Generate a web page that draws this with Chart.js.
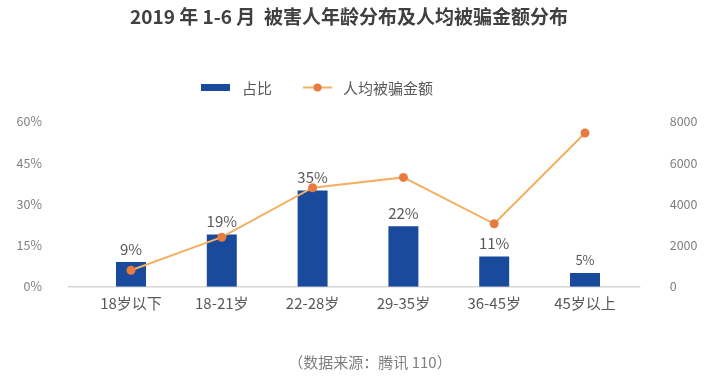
<!DOCTYPE html>
<html><head><meta charset="utf-8">
<script src="https://cdn.jsdelivr.net/npm/chart.js@4"></script>
<style>html,body{margin:0;padding:0;background:#fff}#wrap{width:720px;height:379px}</style>
</head><body><div id="wrap"><canvas id="c" width="720" height="379"></canvas></div>
<script>
const categories = ['18岁以下', '18-21岁', '22-28岁', '29-35岁', '36-45岁', '45岁以上'];
const shareValues = [9, 19, 35, 22, 11, 5];
const avgAmounts = [800, 2400, 4800, 5300, 3050, 7450];
const shareTicks = [0, 15, 30, 45, 60];
const amountTicks = [0, 2000, 4000, 6000, 8000];
const titleText = '2019 年 1-6 月  被害人年龄分布及人均被骗金额分布';
const seriesNames = ['占比', '人均被骗金额'];
const sourceText = '（数据来源：腾讯 110）';

const FONT = '"Noto Sans CJK SC", "Noto Sans", sans-serif';
const BAR = '#1a4a9b', LINE = '#f2b063', DOT = '#ea7b3f';
Chart.defaults.font.family = FONT;

const decor = {
  id: 'decor',
  beforeDatasetsDraw(chart) {
    const ctx = chart.ctx, a = chart.chartArea, y0 = chart.scales.y.getPixelForValue(0);
    ctx.save();
    ctx.strokeStyle = '#d6d6d6'; ctx.lineWidth = 1.5;
    ctx.beginPath(); ctx.moveTo(a.left - 18, y0); ctx.lineTo(a.right + 10, y0); ctx.stroke();
    ctx.restore();
  },
  afterDatasetsDraw(chart) {
    const ctx = chart.ctx;
    ctx.save();
    ctx.fillStyle = '#595959'; ctx.textAlign = 'center'; ctx.textBaseline = 'middle';
    chart.getDatasetMeta(1).data.forEach((el, i) => {
      ctx.font = (shareValues[i] < 8 ? '13px ' : '15px ') + FONT;
      ctx.fillText(shareValues[i] + '%', el.x, el.y - 13);
    });
    ctx.restore();
  },
  afterDraw(chart) {
    const ctx = chart.ctx;
    ctx.save();
    ctx.fillStyle = '#404040'; ctx.textAlign = 'center'; ctx.textBaseline = 'middle';
    ctx.font = 'bold 19px ' + FONT;
    ctx.fillText(titleText, 349, 17);
    ctx.font = '15px ' + FONT; ctx.textAlign = 'left';
    ctx.fillStyle = BAR; ctx.fillRect(201, 84, 29, 7);
    ctx.fillStyle = '#595959'; ctx.fillText(seriesNames[0], 242, 88);
    ctx.strokeStyle = LINE; ctx.lineWidth = 2;
    ctx.beginPath(); ctx.moveTo(303, 87.5); ctx.lineTo(332, 87.5); ctx.stroke();
    ctx.fillStyle = DOT; ctx.beginPath(); ctx.arc(317.5, 87.5, 4, 0, Math.PI * 2); ctx.fill();
    ctx.fillStyle = '#595959'; ctx.fillText(seriesNames[1], 343, 88);
    ctx.textAlign = 'center'; ctx.fillStyle = '#7f7f7f';
    ctx.fillText(sourceText, 370, 362.5);
    ctx.restore();
  }
};

new Chart(document.getElementById('c'), {
  type: 'bar',
  data: {
    labels: categories,
    datasets: [
      {
        type: 'line', label: seriesNames[1], data: avgAmounts, yAxisID: 'y2', order: 0,
        borderColor: LINE, borderWidth: 2, tension: 0,
        pointRadius: 4.5, pointBackgroundColor: DOT, pointBorderColor: DOT, pointBorderWidth: 0
      },
      {
        type: 'bar', label: seriesNames[0], data: shareValues, yAxisID: 'y', order: 1,
        backgroundColor: BAR, categoryPercentage: 1, barPercentage: 0.33
      }
    ]
  },
  options: {
    responsive: false, animation: false, devicePixelRatio: 1,
    layout: { padding: { top: 121.7, bottom: 0, left: 0, right: 0 } },
    plugins: { legend: { display: false }, title: { display: false }, tooltip: { enabled: false } },
    scales: {
      x: {
        grid: { display: false }, border: { display: false },
        ticks: { color: '#595959', font: { size: 15 }, padding: 0, maxRotation: 0 },
        afterFit(s) { s.height = 379 - 286.7; }
      },
      y: {
        position: 'left', min: 0, max: 60,
        grid: { display: false }, border: { display: false },
        afterBuildTicks(s) { s.ticks = shareTicks.map(v => ({ value: v })); },
        ticks: { color: '#7f7f7f', font: { size: 12.5 }, padding: 35.6, callback: v => v + '%' },
        afterFit(s) { s.width = 85.6; }
      },
      y2: {
        position: 'right', min: 0, max: 8000,
        grid: { display: false }, border: { display: false },
        afterBuildTicks(s) { s.ticks = amountTicks.map(v => ({ value: v })); },
        ticks: { color: '#7f7f7f', font: { size: 12.5 }, padding: 31.3, callback: v => String(v) },
        afterFit(s) { s.width = 720 - 630.4; }
      }
    }
  },
  plugins: [decor]
});
</script></body></html>
